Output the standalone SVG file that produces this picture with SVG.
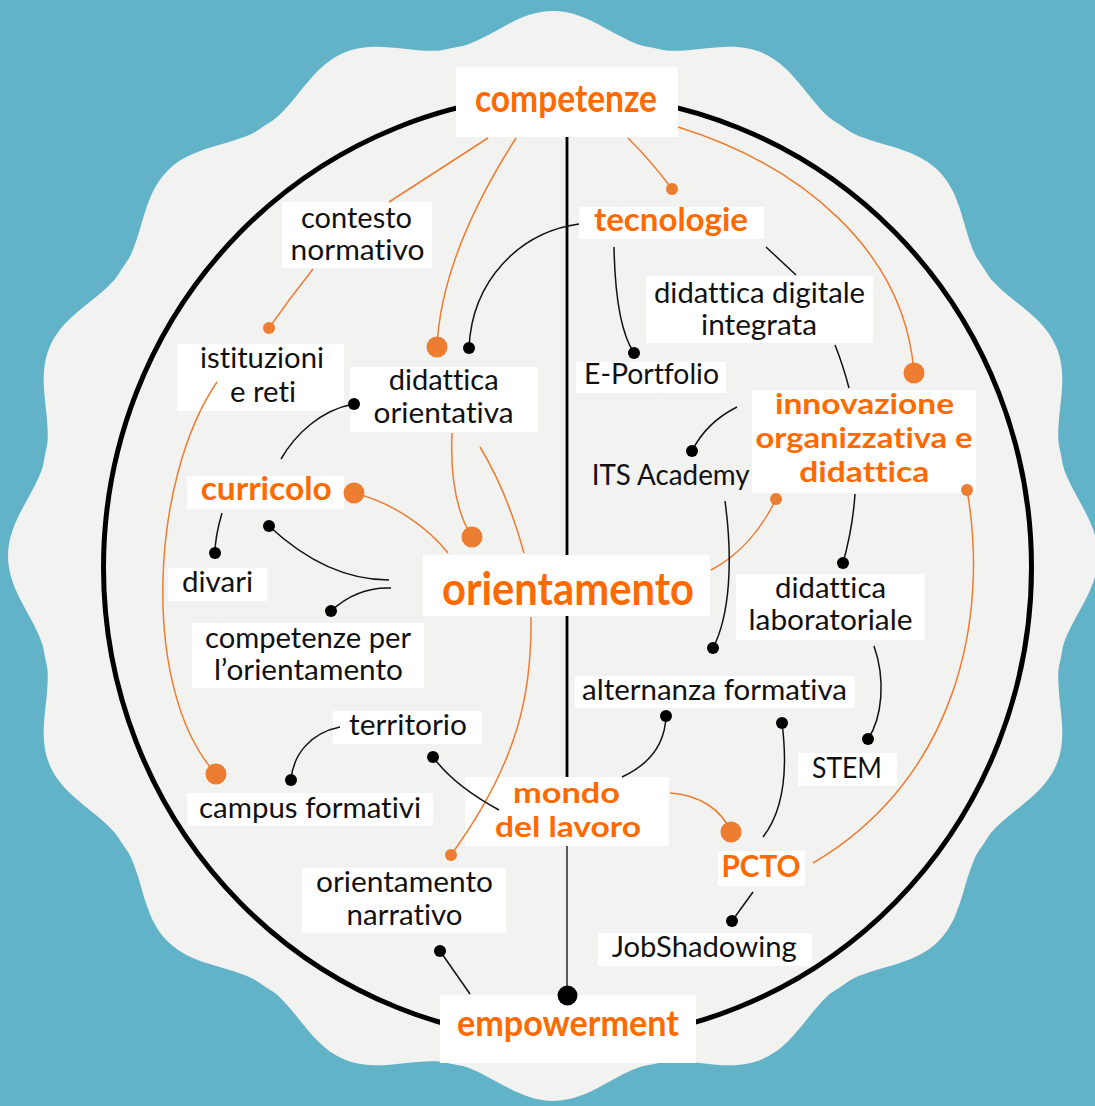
<svg xmlns="http://www.w3.org/2000/svg" width="1095" height="1106" viewBox="0 0 1095 1106">
<style>
.bg{fill:#63B3C8}
.blob{fill:#F2F2F0}
.box{fill:#FFFFFF}
.t{font-family:Lato,"Liberation Sans",sans-serif;font-size:29px;fill:#111;font-variant-ligatures:none}
.o{font-family:Lato,"Liberation Sans",sans-serif;font-weight:700;fill:#FF6A00;font-variant-ligatures:none}
.co{fill:none;stroke:#ED7D31;stroke-width:1.5}
.cb{fill:none;stroke:#111;stroke-width:1.5}
.do{fill:#ED7D31}
.db{fill:#000}
</style>
<defs>
<path id="lobe" d="M0,0 L-100.86,-507.07 C-63.59,-514.48 -38,-545 0,-545 C38,-545 63.59,-514.48 100.86,-507.07 Z"/>
</defs>
<rect class="bg" x="0" y="0" width="1095" height="1106"/>
<g id="backdrop" class="blob" transform="translate(553,556)">
<circle r="518"/>
<use href="#lobe"/>
<use href="#lobe" transform="rotate(22.5)"/>
<use href="#lobe" transform="rotate(45)"/>
<use href="#lobe" transform="rotate(67.5)"/>
<use href="#lobe" transform="rotate(90)"/>
<use href="#lobe" transform="rotate(112.5)"/>
<use href="#lobe" transform="rotate(135)"/>
<use href="#lobe" transform="rotate(157.5)"/>
<use href="#lobe" transform="rotate(180)"/>
<use href="#lobe" transform="rotate(202.5)"/>
<use href="#lobe" transform="rotate(225)"/>
<use href="#lobe" transform="rotate(247.5)"/>
<use href="#lobe" transform="rotate(270)"/>
<use href="#lobe" transform="rotate(292.5)"/>
<use href="#lobe" transform="rotate(315)"/>
<use href="#lobe" transform="rotate(337.5)"/>
</g>
<ellipse id="ring" cx="567.5" cy="567.5" rx="464" ry="473" fill="none" stroke="#000" stroke-width="5"/>
<g id="nodes">
<g id="n-competenze"><rect class="box" x="456" y="67" width="222" height="70"/><text class="o" font-size="38" x="475" y="111.7" textLength="182" lengthAdjust="spacingAndGlyphs">competenze</text></g>
<g id="n-contesto"><rect class="box" x="282" y="202" width="150" height="66"/><text class="t"><tspan x="301" y="227.5" textLength="111" lengthAdjust="spacingAndGlyphs">contesto</tspan><tspan x="290.5" y="260" textLength="134" lengthAdjust="spacingAndGlyphs">normativo</tspan></text></g>
<g id="n-istituzioni"><rect class="box" x="177" y="344" width="167" height="67"/><text class="t"><tspan x="200" y="367.7" textLength="124" lengthAdjust="spacingAndGlyphs">istituzioni</tspan><tspan x="230" y="401.7" textLength="66" lengthAdjust="spacingAndGlyphs">e reti</tspan></text></g>
<g id="n-didattica-orientativa"><rect class="box" x="350" y="367" width="188" height="65"/><text class="t"><tspan x="388.7" y="390" textLength="110" lengthAdjust="spacingAndGlyphs">didattica</tspan><tspan x="373.6" y="423.3" textLength="140" lengthAdjust="spacingAndGlyphs">orientativa</tspan></text></g>
<g id="n-tecnologie"><rect class="box" x="579" y="207" width="185" height="32"/><text class="o" font-size="32" x="594" y="231" textLength="154" lengthAdjust="spacingAndGlyphs">tecnologie</text></g>
<g id="n-ddi"><rect class="box" x="646" y="276" width="227" height="67"/><text class="t"><tspan x="654" y="302.5" textLength="211" lengthAdjust="spacingAndGlyphs">didattica digitale</tspan><tspan x="701" y="335" textLength="116" lengthAdjust="spacingAndGlyphs">integrata</tspan></text></g>
<g id="n-eportfolio"><rect class="box" x="576" y="362" width="150" height="31"/><text class="t" x="584" y="384" textLength="135" lengthAdjust="spacingAndGlyphs">E-Portfolio</text></g>
<g id="n-innovazione"><rect class="box" x="752" y="390" width="224" height="103"/><text class="o" font-size="28.3"><tspan x="775" y="414.3" textLength="179" lengthAdjust="spacingAndGlyphs">innovazione</tspan><tspan x="755.5" y="448.3" textLength="217" lengthAdjust="spacingAndGlyphs">organizzativa e</tspan><tspan x="799.3" y="482.3" textLength="130" lengthAdjust="spacingAndGlyphs">didattica</tspan></text></g>
<g id="n-its"><text class="t" x="591.7" y="485" textLength="158" lengthAdjust="spacingAndGlyphs">ITS Academy</text></g>
<g id="n-laboratoriale"><rect class="box" x="736" y="574" width="189" height="66"/><text class="t"><tspan x="775" y="598.3" textLength="111" lengthAdjust="spacingAndGlyphs">didattica</tspan><tspan x="748.5" y="630" textLength="164" lengthAdjust="spacingAndGlyphs">laboratoriale</tspan></text></g>
<g id="n-alternanza"><rect class="box" x="575" y="676" width="280" height="32"/><text class="t" x="582" y="700" textLength="265" lengthAdjust="spacingAndGlyphs">alternanza formativa</text></g>
<g id="n-stem"><rect class="box" x="798" y="753" width="99" height="33"/><text class="t" x="812" y="777.7" textLength="70" lengthAdjust="spacingAndGlyphs">STEM</text></g>
<g id="n-curricolo"><rect class="box" x="187" y="476" width="157" height="33"/><text class="o" font-size="33" x="200.7" y="500" textLength="131" lengthAdjust="spacingAndGlyphs">curricolo</text></g>
<g id="n-divari"><rect class="box" x="168" y="568" width="99" height="33"/><text class="t" x="182" y="592.3" textLength="71" lengthAdjust="spacingAndGlyphs">divari</text></g>
<g id="n-comp-orient"><rect class="box" x="192" y="623" width="232" height="65"/><text class="t"><tspan x="205" y="647.5" textLength="206" lengthAdjust="spacingAndGlyphs">competenze per</tspan><tspan x="214" y="680" textLength="189" lengthAdjust="spacingAndGlyphs">l’orientamento</tspan></text></g>
<g id="n-orientamento"><rect class="box" x="423" y="555" width="287" height="61"/><text class="o" font-size="46" x="442" y="605" textLength="252" lengthAdjust="spacingAndGlyphs">orientamento</text></g>
<g id="n-territorio"><rect class="box" x="333" y="711" width="149" height="33"/><text class="t" x="349" y="735" textLength="118" lengthAdjust="spacingAndGlyphs">territorio</text></g>
<g id="n-campus"><rect class="box" x="187" y="793" width="246" height="33"/><text class="t" x="199" y="817.7" textLength="222" lengthAdjust="spacingAndGlyphs">campus formativi</text></g>
<g id="n-mondo"><rect class="box" x="465" y="777" width="204" height="69"/><text class="o" font-size="28.3"><tspan x="513" y="803" textLength="107" lengthAdjust="spacingAndGlyphs">mondo</tspan><tspan x="495" y="837" textLength="146" lengthAdjust="spacingAndGlyphs">del lavoro</tspan></text></g>
<g id="n-narrativo"><rect class="box" x="302" y="868" width="204" height="65"/><text class="t"><tspan x="316" y="892" textLength="177" lengthAdjust="spacingAndGlyphs">orientamento</tspan><tspan x="346.6" y="924.5" textLength="116" lengthAdjust="spacingAndGlyphs">narrativo</tspan></text></g>
<g id="n-empowerment"><rect class="box" x="440" y="995" width="256" height="68"/><text class="o" font-size="37" x="457" y="1036" textLength="222" lengthAdjust="spacingAndGlyphs">empowerment</text></g>
<g id="n-pcto"><rect class="box" x="718" y="851" width="87" height="35"/><text class="o" font-size="31" x="721.5" y="876.7" textLength="79" lengthAdjust="spacingAndGlyphs">PCTO</text></g>
<g id="n-jobshadowing"><rect class="box" x="598" y="933" width="214" height="33"/><text class="t" x="611.7" y="957.3" textLength="185" lengthAdjust="spacingAndGlyphs">JobShadowing</text></g>
</g>
<g id="connectors">
<line x1="567" y1="137" x2="567" y2="555" stroke="#000" stroke-width="2.8"/>
<line x1="567" y1="616" x2="567" y2="777" stroke="#000" stroke-width="2.8"/>
<line x1="567" y1="846" x2="567" y2="995" stroke="#333" stroke-width="1.6"/>
<circle class="db" cx="567.5" cy="995.5" r="10"/>
<path class="co" d="M488,138 L389,202"/>
<path class="co" d="M516,138 C470,210 440,280 437,347"/><circle class="do" cx="437" cy="347" r="10.5"/>
<path class="co" d="M313,269 Q290,298 269,328"/><circle class="do" cx="269" cy="328" r="6"/>
<path class="co" d="M628,138 Q652,162 672,189"/><circle class="do" cx="672" cy="189" r="6"/>
<path class="co" d="M678,127 C800,165 905,250 914,373"/><circle class="do" cx="914" cy="373" r="10.5"/>
<path class="co" d="M217,382 C150,480 140,690 216,774"/><circle class="do" cx="216" cy="774" r="10.5"/>
<path class="co" d="M452,433 C450,480 458,515 472,537"/><circle class="do" cx="472" cy="537" r="10.5"/>
<path class="co" d="M480,447 C500,480 515,520 524,553"/>
<path class="co" d="M531,617 C532,690 520,760 451,855"/><circle class="do" cx="451" cy="855" r="6"/>
<path class="co" d="M354,493 C395,503 430,530 448,553"/><circle class="do" cx="354" cy="493" r="10.5"/>
<path class="co" d="M711,570 C740,555 762,528 776,499"/><circle class="do" cx="776" cy="499" r="6"/>
<path class="co" d="M967,490 C990,620 955,780 813,863"/><circle class="do" cx="967" cy="490" r="6"/>
<path class="co" d="M670,793 C700,795 722,810 731,832"/><circle class="do" cx="731" cy="832" r="10.5"/>
<path class="cb" d="M579,224 C520,232 472,280 469,348"/><circle class="db" cx="469" cy="348" r="6"/>
<path class="cb" d="M614,247 C615,300 622,335 634,353"/><circle class="db" cx="634" cy="353" r="6"/>
<path class="cb" d="M766,247 L796,275"/>
<path class="cb" d="M835,345 Q843,365 849,388"/>
<path class="cb" d="M737,407 C715,418 700,435 692,451"/><circle class="db" cx="692" cy="451" r="6"/>
<path class="cb" d="M725,501 C733,560 730,615 713,648"/><circle class="db" cx="713" cy="648" r="6"/>
<path class="cb" d="M855,494 C853,525 848,545 843,563"/><circle class="db" cx="843" cy="563" r="6"/>
<path class="cb" d="M874,646 C886,680 882,718 868,739"/><circle class="db" cx="868" cy="739" r="6"/>
<path class="cb" d="M666,716 C665,745 648,765 622,777"/><circle class="db" cx="666" cy="716" r="6"/>
<path class="cb" d="M782,723 C788,770 784,810 763,837"/><circle class="db" cx="782" cy="723" r="6"/>
<path class="cb" d="M753,892 L732,921"/><circle class="db" cx="732" cy="921" r="6"/>
<path class="cb" d="M354,404 C320,410 295,435 281,459"/><circle class="db" cx="354" cy="404" r="6"/>
<path class="cb" d="M222,513 C217,530 215,540 215,553"/><circle class="db" cx="215" cy="553" r="6"/>
<path class="cb" d="M269,526 C300,555 340,580 389,580"/><circle class="db" cx="269" cy="526" r="6"/>
<path class="cb" d="M391,588 C365,587 345,598 331,611"/><circle class="db" cx="331" cy="611" r="6"/>
<path class="cb" d="M340,727 C310,733 293,755 291,780"/><circle class="db" cx="291" cy="780" r="6"/>
<path class="cb" d="M433,757 C450,780 475,797 499,810"/><circle class="db" cx="433" cy="757" r="6"/>
<path class="cb" d="M440,951 L470,994"/><circle class="db" cx="440" cy="951" r="6"/>
</g>
</svg>
